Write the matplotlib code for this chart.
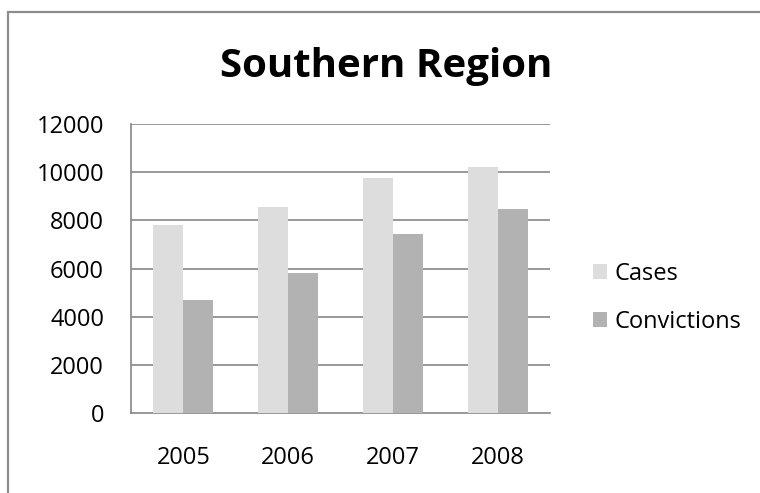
import matplotlib
matplotlib.use("Agg")
import matplotlib.pyplot as plt
from matplotlib.patches import Rectangle
import numpy as np

years = ["2005", "2006", "2007", "2008"]
cases = [7800, 8560, 9740, 10220]
convictions = [4680, 5800, 7430, 8480]
y_ticks = [0, 2000, 4000, 6000, 8000, 10000, 12000]

plt.rcParams["font.family"] = ["Open Sans", "DejaVu Sans"]

W, H = 760, 493
fig = plt.figure(figsize=(W / 100, H / 100), dpi=100)
fig.patch.set_facecolor("white")

# chart-area frame (only its top and left edges fall inside the image)
fig.patches.append(Rectangle((8 / W, -0.1), 1.2, 1 - 12 / H + 0.1,
                             transform=fig.transFigure, fill=False,
                             edgecolor="#8c8c8c", linewidth=1.6))

ax = fig.add_axes([131 / W, 1 - 413 / H, (550 - 131) / W, (413 - 124) / H])

x = np.arange(len(years))
bw = 0.286
ax.bar(x - bw / 2, cases, width=bw, color="#dddddd", label="Cases", zorder=3)
ax.bar(x + bw / 2, convictions, width=bw, color="#b2b2b2", label="Convictions", zorder=3)

ax.set_xlim(-0.5, len(years) - 0.5)
ax.set_ylim(0, 12000)
ax.set_yticks(y_ticks)
ax.set_yticklabels([str(v) for v in y_ticks])
ax.set_xticks(x)
ax.set_xticklabels(years)

for v in y_ticks[1:]:
    ax.axhline(v, color="#868686", linewidth=1.2, zorder=1)

for side in ["top", "right"]:
    ax.spines[side].set_visible(False)
for side in ["left", "bottom"]:
    ax.spines[side].set_color("#868686")
    ax.spines[side].set_linewidth(1.2)

ax.tick_params(axis="y", length=0, pad=19.4, labelsize=17, labelcolor="black")
ax.tick_params(axis="x", length=0, pad=24, labelsize=17, labelcolor="black")

fig.text(386.5 / W, 1 - 77 / H, "Southern Region", ha="center", va="baseline",
         fontsize=29, fontweight="bold")

leg = fig.legend(loc="center left", bbox_to_anchor=(593 / W, 1 - 298 / H),
                 frameon=False, fontsize=17, handlelength=0.6, handleheight=0.6,
                 handletextpad=0.3, labelspacing=1.0, borderpad=0,
                 borderaxespad=0)

fig.savefig("out.png", dpi=100, facecolor="white")
